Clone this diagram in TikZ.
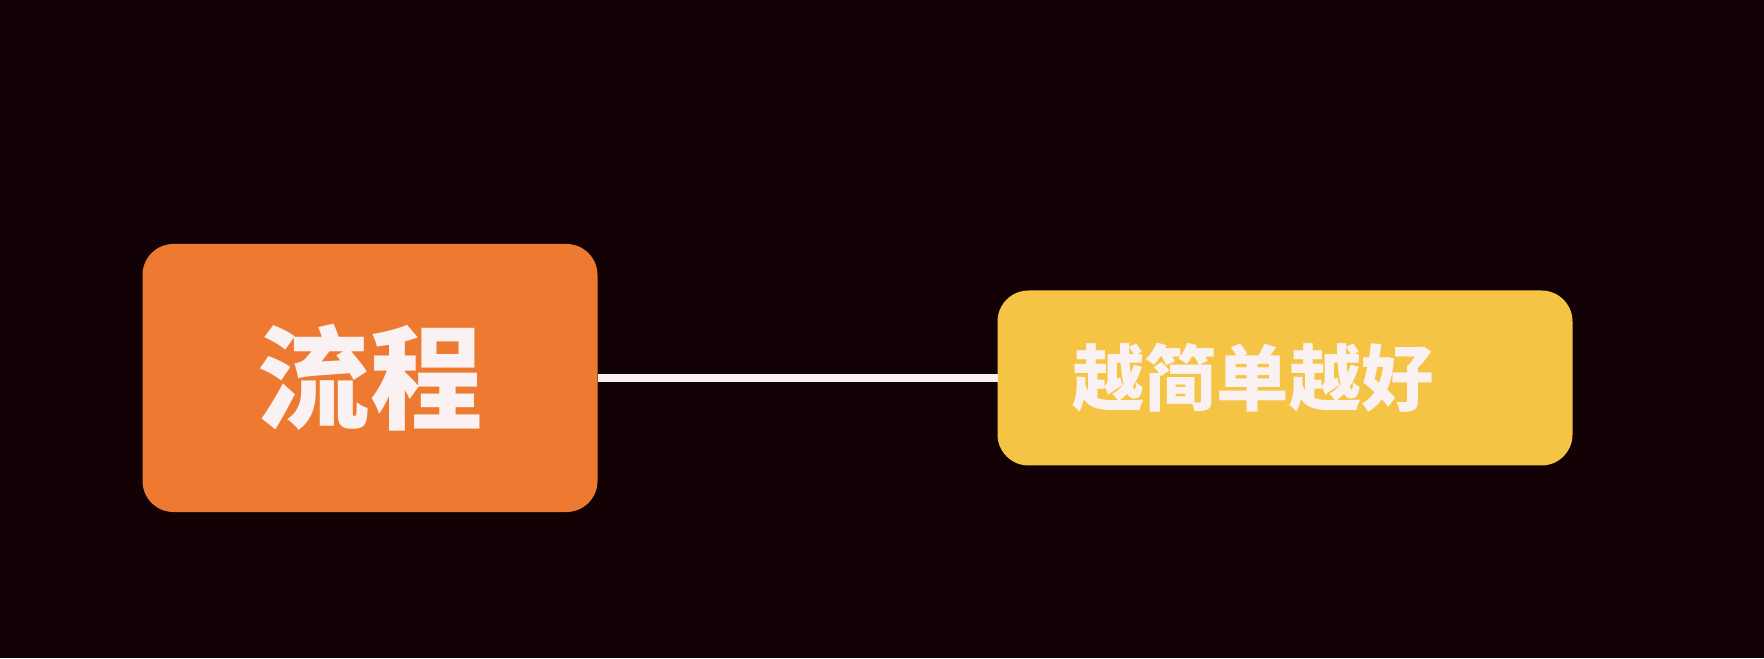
\documentclass[tikz,border=0pt]{standalone}
\usepackage{fontspec}
\newfontfamily\cjk{Noto Sans CJK SC}
\usepackage{tikz}
\usetikzlibrary{positioning}
\usepackage{xcolor}
\definecolor{bgdark}{HTML}{130205}
\definecolor{boxorange}{HTML}{EE7A32}
\definecolor{boxyellow}{HTML}{F5C445}
\definecolor{textwhite}{HTML}{FAF2F2}

\begin{document}
\begin{tikzpicture}[
  box/.style={rounded corners=0.31cm,outer sep=0pt,text=textwhite,font=\cjk\bfseries}]
  \fill[bgdark] (0,0) rectangle (17.64,6.58);
  \useasboundingbox (0,0) rectangle (17.64,6.58);
  \node[box,fill=boxorange,minimum width=4.55cm,minimum height=2.68cm,
        font=\cjk\bfseries\fontsize{32}{36}\selectfont] (flow) at (3.70,2.80) {流程};
  \node[box,fill=boxyellow,minimum height=1.75cm,inner xsep=0.745cm,
        text width=4.26cm,align=left,
        font=\cjk\bfseries\fontsize{20.6}{24}\selectfont] (simple) [right=4cm of flow] {越简单越好};

  \path[draw=textwhite,line width=0.08cm] (flow) -- (simple);
\end{tikzpicture}
\end{document}
